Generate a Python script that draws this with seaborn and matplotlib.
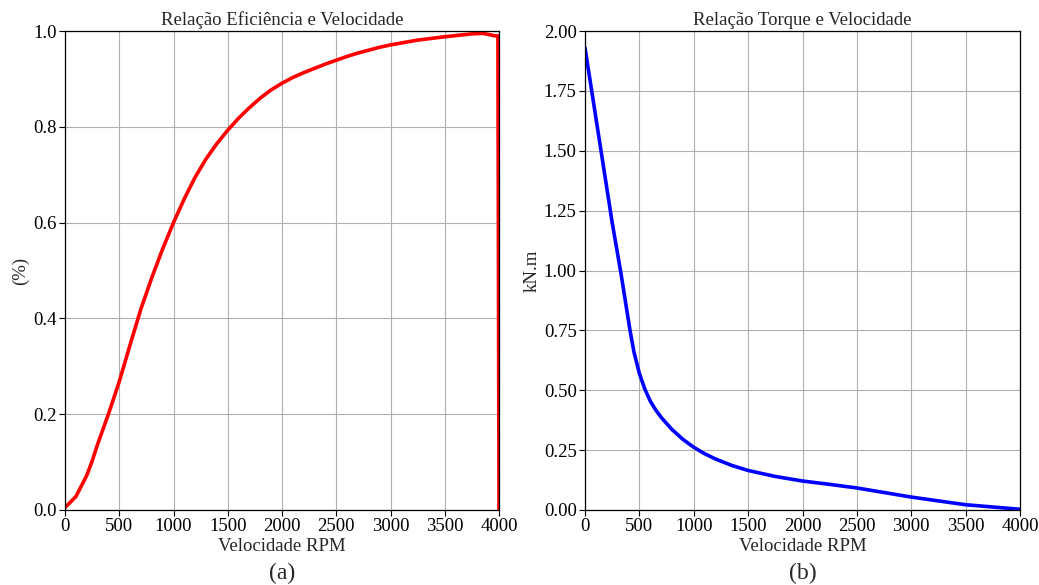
import matplotlib
matplotlib.use("Agg")
import matplotlib.pyplot as plt
import seaborn as sns
import pandas as pd

# Efficiency vs speed
rpm_eff = [0, 100, 200, 250, 300, 400, 500, 600, 700, 800, 900, 1000, 1100, 1200,
           1300, 1400, 1500, 1600, 1700, 1800, 1900, 2000, 2100, 2200, 2300, 2400,
           2500, 2600, 2700, 2800, 2900, 3000, 3250, 3500, 3750, 3850, 3900, 3960,
           3990, 4000]
efficiency = [0.005, 0.028, 0.072, 0.102, 0.137, 0.20, 0.268, 0.345, 0.42, 0.485,
              0.545, 0.60, 0.65, 0.695, 0.733, 0.765, 0.793, 0.818, 0.84, 0.86,
              0.877, 0.891, 0.903, 0.913, 0.922, 0.931, 0.939, 0.947, 0.954, 0.96,
              0.966, 0.971, 0.981, 0.988, 0.994, 0.995, 0.993, 0.99, 0.99, 0.0]

# Torque vs speed
rpm_torque = [0, 250, 330, 414, 450, 500, 550, 600, 650, 700, 800, 900, 1000, 1100,
              1200, 1350, 1500, 1750, 2000, 2250, 2500, 3000, 3500, 4000]
torque = [1.93, 1.20, 0.99, 0.75, 0.66, 0.57, 0.505, 0.455, 0.418, 0.387, 0.336,
          0.295, 0.262, 0.235, 0.213, 0.186, 0.165, 0.14, 0.121, 0.107, 0.092,
          0.054, 0.022, 0.003]

x_ticks = [0, 500, 1000, 1500, 2000, 2500, 3000, 3500, 4000]

sns.set_style("ticks")
plt.rcParams['font.family'] = ['Liberation Serif', 'DejaVu Serif']

fig = plt.figure(figsize=(10.39, 5.85), dpi=100)
W, H = 1039, 585
ax1 = fig.add_axes([65 / W, 1 - 510 / H, (499 - 65) / W, (510 - 31) / H])
ax2 = fig.add_axes([585 / W, 1 - 510 / H, (1020 - 585) / W, (510 - 31) / H])

df1 = pd.DataFrame({"rpm": rpm_eff, "eff": efficiency})
df2 = pd.DataFrame({"rpm": rpm_torque, "torque": torque})

sns.lineplot(data=df1, x="rpm", y="eff", ax=ax1, color="red", linewidth=2.6, sort=False)
sns.lineplot(data=df2, x="rpm", y="torque", ax=ax2, color="blue", linewidth=2.6, sort=False)

for ax in (ax1, ax2):
    ax.set_xlim(0, 4000)
    ax.set_xticks(x_ticks)
    ax.grid(True, color="#b0b0b0", linewidth=0.8)
    ax.set_axisbelow(True)
    for s in ax.spines.values():
        s.set_visible(True)
        s.set_color("black")
        s.set_linewidth(0.9)
    ax.tick_params(labelsize=13.5, direction="out", length=4, colors="black", pad=2)
    ax.set_xlabel("Velocidade RPM", fontsize=13.5, labelpad=2)

ax1.set_ylim(0, 1.0)
ax1.set_yticks([0.0, 0.2, 0.4, 0.6, 0.8, 1.0])
ax1.set_yticklabels(["0.0", "0.2", "0.4", "0.6", "0.8", "1.0"])
ax1.set_ylabel("(%)", fontsize=13.5, labelpad=3)
ax1.set_title("Relação Eficiência e Velocidade", fontsize=13.5, pad=4)

ax2.set_ylim(0, 2.0)
ax2.set_yticks([0, 0.25, 0.5, 0.75, 1.0, 1.25, 1.5, 1.75, 2.0])
ax2.set_yticklabels(["0.00", "0.25", "0.50", "0.75", "1.00", "1.25", "1.50", "1.75", "2.00"])
ax2.set_ylabel("kN.m", fontsize=13.5, labelpad=2)
ax2.set_title("Relação Torque e Velocidade", fontsize=13.5, pad=4)

fig.text((65 + 499) / 2 / W, 1 - 573 / H, "(a)", ha="center", va="center", fontsize=17)
fig.text((585 + 1020) / 2 / W, 1 - 573 / H, "(b)", ha="center", va="center", fontsize=17)

fig.savefig("out.png", dpi=100)
